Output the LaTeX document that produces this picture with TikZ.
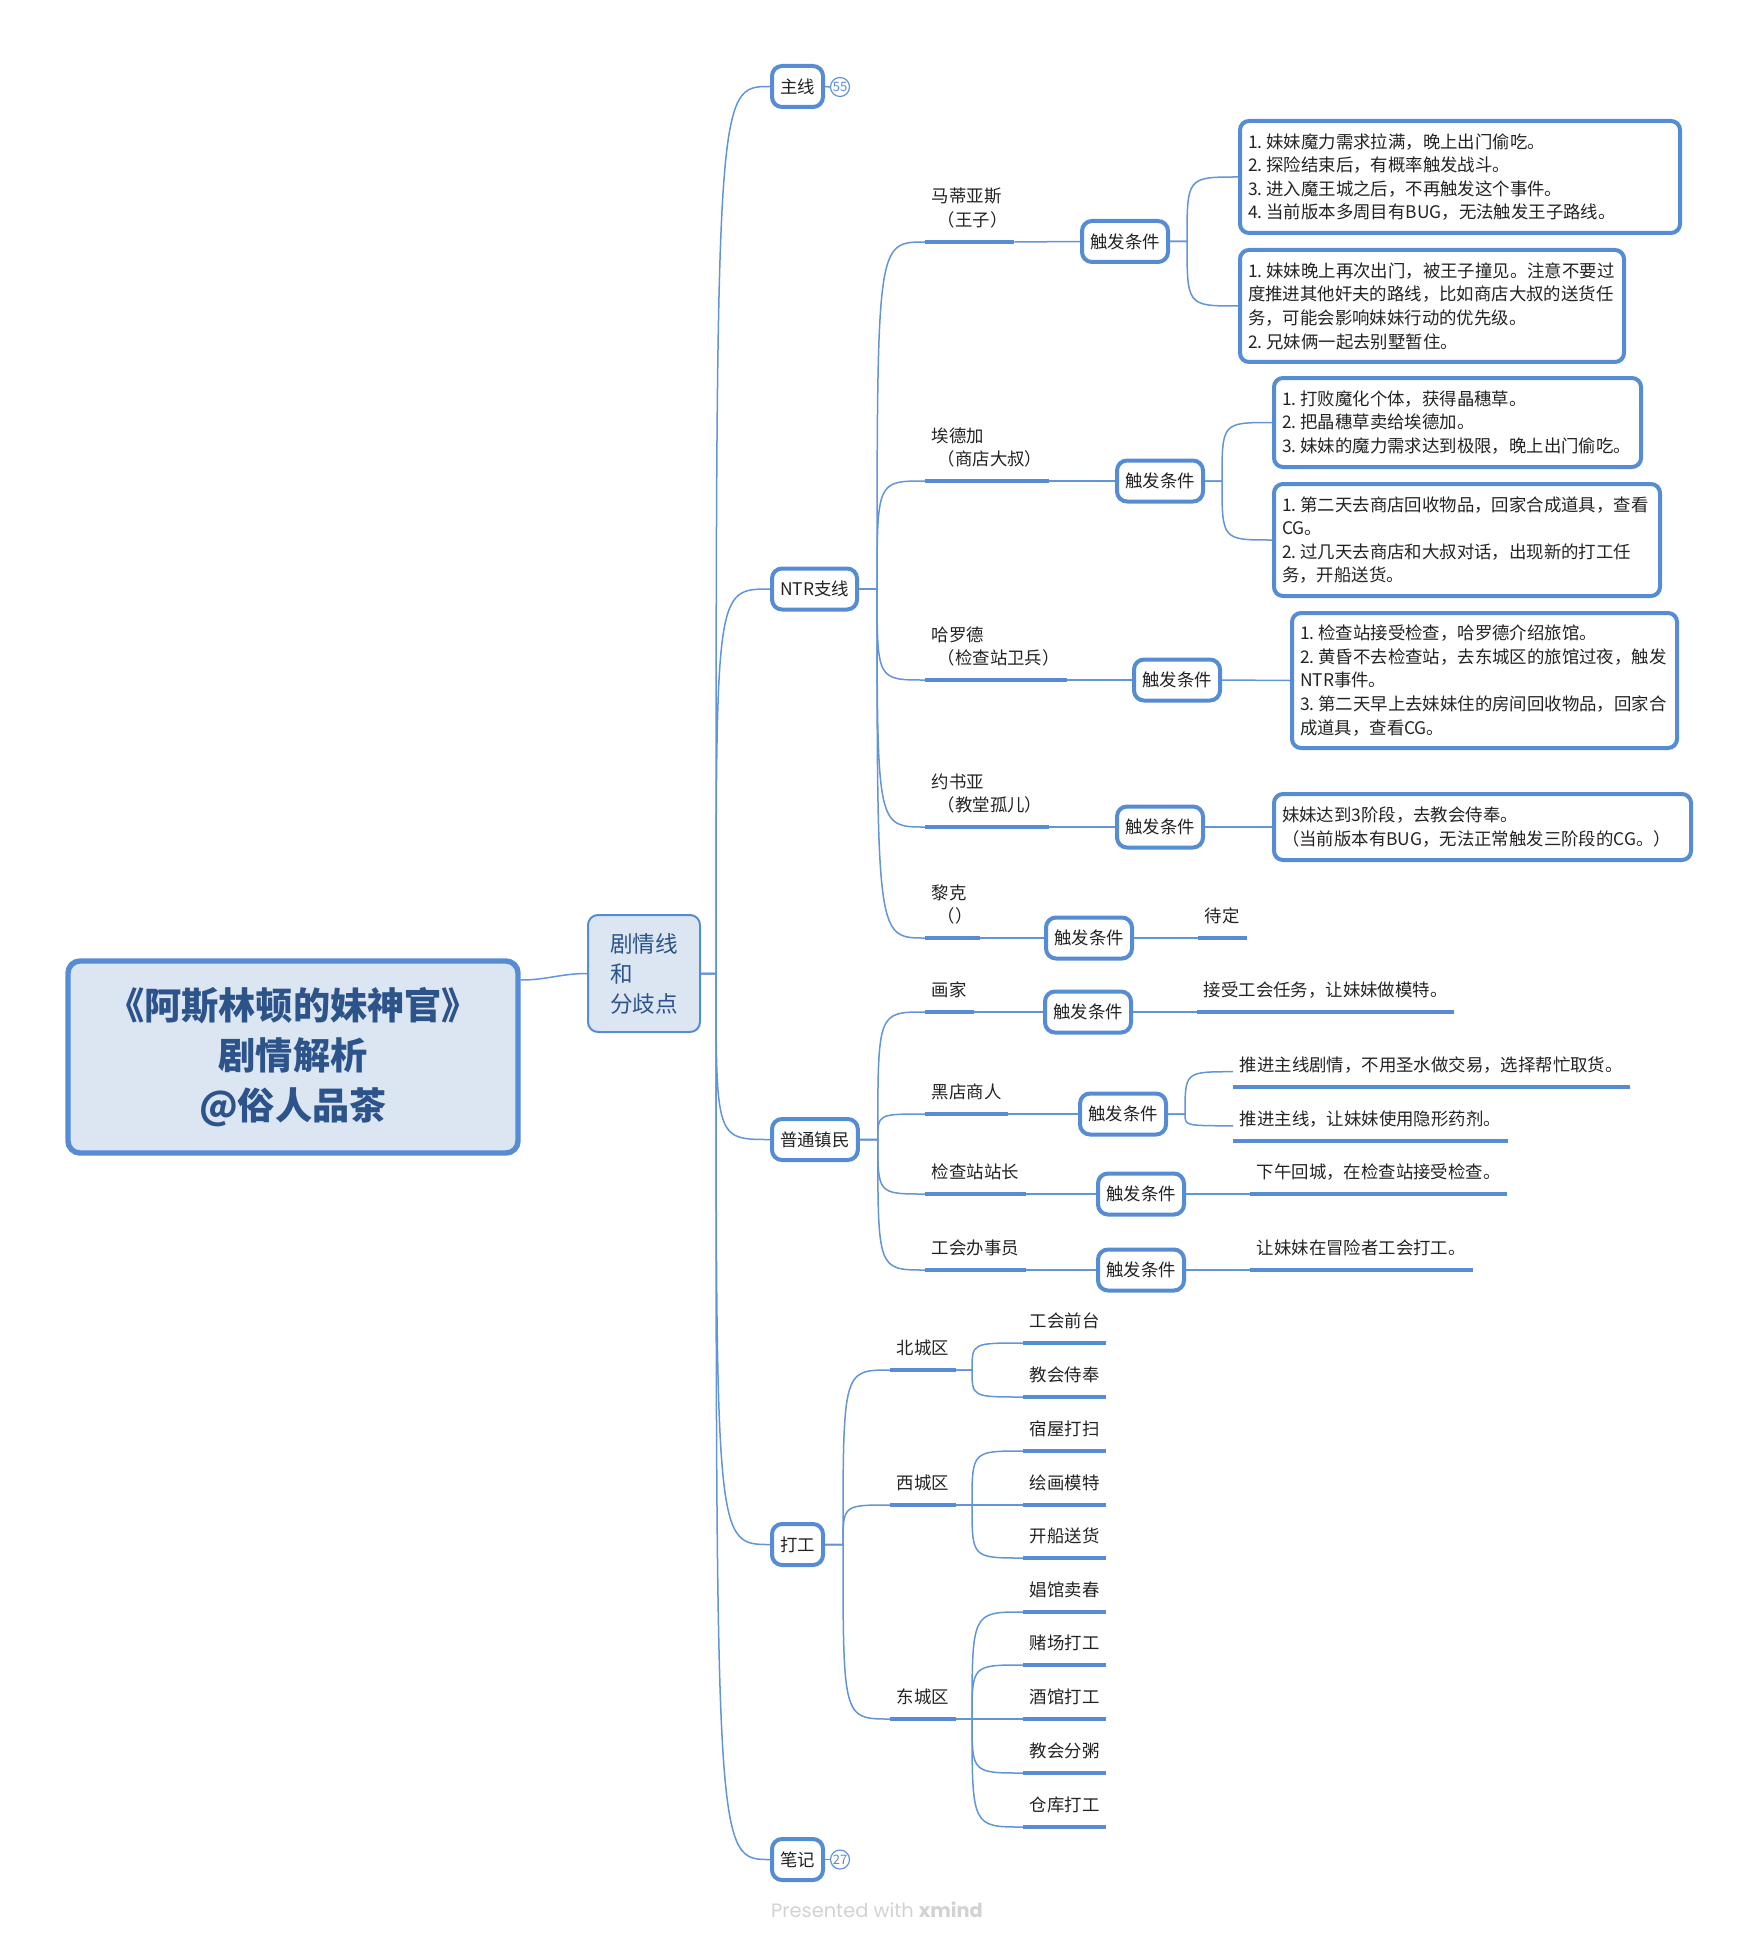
\documentclass[tikz,border=0pt]{standalone}
\usepackage{fontspec}
\setmainfont{Noto Sans CJK SC}
\newfontfamily\xmfont{Poppins}
\newcommand\itm[1]{#1.\kern2pt}

\definecolor{xmblue}{RGB}{86,140,212}
\definecolor{xmline}{RGB}{98,148,216}
\definecolor{xmfill}{RGB}{220,230,242}
\definecolor{xmtitle}{RGB}{45,84,138}
\definecolor{xmgray}{RGB}{210,210,210}
\definecolor{xmtext}{RGB}{35,35,35}

\tikzset{
  every node/.style={font=\fontsize{8.7}{11.8}\selectfont, text=xmtext},
  central/.style={draw=xmblue, line width=2.7pt, fill=xmfill, rounded corners=6pt,
    minimum width=225pt, minimum height=96pt, align=center, text=xmtitle,
    font=\fontsize{18.6}{25}\selectfont\bfseries},
  mainbr/.style={draw=xmblue, line width=1pt, fill=xmfill, rounded corners=5pt,
    minimum width=56pt, minimum height=58.5pt, align=left, text=xmtitle,
    font=\fontsize{11.3}{15}\selectfont},
  topic/.style={draw=xmblue, line width=2pt, fill=white, rounded corners=5pt,
    anchor=west, minimum height=20.5pt, inner xsep=4.05pt, inner ysep=0pt},
  trig/.style={draw=xmblue, line width=2pt, fill=white, rounded corners=5pt,
    anchor=west, minimum height=20.5pt, inner xsep=4.1pt, inner ysep=0pt},
  note/.style={draw=xmblue, line width=2pt, fill=white, rounded corners=4.5pt,
    anchor=west, align=left, inner xsep=4pt, inner ysep=0pt},
  sub/.style={anchor=south west, align=left, inner xsep=3.25pt, inner ysep=0pt,
    text depth=7.5pt},
  uline/.style={draw=xmblue, line width=2pt},
  link/.style={draw=xmline, line width=0.75pt},
  badge/.style={circle, draw=xmline, line width=0.6pt, inner sep=0pt,
    minimum size=9.5pt, text=xmblue, font=\fontsize{6.5}{6.5}\selectfont},
}

\begin{document}
\begin{tikzpicture}[x=0.5pt, y=-0.5pt]
\useasboundingbox (0,0) rectangle (1755,1947);

% root and first split
\node[central] (root) at (293,1057) {《阿斯林顿的妹神官》\\剧情解析\\@俗人品茶};
\node[mainbr] (story) at (644,973.5) {剧情线\\和\\分歧点};

% level 1
\node[topic] (mainline) at (770,86.5) {主线};
\node[topic] (ntr) at (770,589) {NTR支线};
\node[topic] (towns) at (770,1139.5) {普通镇民};
\node[topic] (work) at (770,1544.5) {打工};
\node[topic] (memo) at (770,1859.5) {笔记};
\node[badge] (c55) at (840,87) {55};
\node[badge] (c27) at (840,1859.5) {27};

% NTR branch
\node[sub] (matias) at (925,242) {马蒂亚斯\\\kern3pt（王子）};
\node[sub] (edgar) at (925,481) {埃德加\\\kern3pt（商店大叔）};
\node[sub] (harold) at (925,680) {哈罗德\\\kern3pt（检查站卫兵）};
\node[sub] (joshua) at (925,827) {约书亚\\\kern3pt（教堂孤儿）};
\node[sub] (rick) at (925,938) {黎克\\\kern3pt（）};

\node[trig] (t1) at (1080,241.5) {触发条件};
\node[trig] (t2) at (1115,481) {触发条件};
\node[trig] (t3) at (1132,680) {触发条件};
\node[trig] (t4) at (1115,827) {触发条件};
\node[trig] (t5) at (1044,938) {触发条件};

\node[note, text width=212pt, minimum height=56pt] (a1) at (1238,177)
  {\itm1妹妹魔力需求拉满，晚上出门偷吃。\\\itm2探险结束后，有概率触发战斗。\\\itm3进入魔王城之后，不再触发这个事件。\\\itm4当前版本多周目有BUG，无法触发王子路线。};
\node[note, text width=184pt, minimum height=56pt] (a2) at (1238,306)
  {\itm1妹妹晚上再次出门，被王子撞见。注意不要过\\度推进其他奸夫的路线，比如商店大叔的送货任\\务，可能会影响妹妹行动的优先级。\\\itm2兄妹俩一起去别墅暂住。};
\node[note, text width=175.5pt, minimum height=44.5pt] (b1) at (1272,422.5)
  {\itm1打败魔化个体，获得晶穗草。\\\itm2把晶穗草卖给埃德加。\\\itm3妹妹的魔力需求达到极限，晚上出门偷吃。};
\node[note, text width=185pt, minimum height=56pt] (b2) at (1272,540)
  {\itm1第二天去商店回收物品，回家合成道具，查看\\CG。\\\itm2过几天去商店和大叔对话，出现新的打工任\\务，开船送货。};
\node[note, text width=184.5pt, minimum height=67.5pt] (c1) at (1290,680.5)
  {\itm1检查站接受检查，哈罗德介绍旅馆。\\\itm2黄昏不去检查站，去东城区的旅馆过夜，触发\\NTR事件。\\\itm3第二天早上去妹妹住的房间回收物品，回家合\\成道具，查看CG。};
\node[note, text width=200.5pt, minimum height=33pt] (d1) at (1272,827)
  {妹妹达到3阶段，去教会侍奉。\\（当前版本有BUG，无法正常触发三阶段的CG。）};
\node[sub] (e1) at (1198,938) {待定};

% townsfolk branch
\node[sub] (painter) at (925,1012) {画家};
\node[sub] (dealer) at (925,1114) {黑店商人};
\node[sub] (chief) at (925,1194) {检查站站长};
\node[sub] (clerk) at (925,1270) {工会办事员};

\node[trig] (t6) at (1043,1012) {触发条件};
\node[trig] (t7) at (1078,1114) {触发条件};
\node[trig] (t8) at (1096,1194) {触发条件};
\node[trig] (t9) at (1096,1270) {触发条件};

\node[sub] (f1) at (1197,1012) {接受工会任务，让妹妹做模特。};
\node[sub] (g1) at (1233,1087) {推进主线剧情，不用圣水做交易，选择帮忙取货。};
\node[sub] (g2) at (1233,1141) {推进主线，让妹妹使用隐形药剂。};
\node[sub] (h1) at (1250,1194) {下午回城，在检查站接受检查。};
\node[sub] (k1) at (1250,1270) {让妹妹在冒险者工会打工。};

% part-time jobs
\node[sub] (north) at (890,1370) {北城区};
\node[sub] (west) at (890,1505) {西城区};
\node[sub] (east) at (890,1719) {东城区};

\node[sub] (j1) at (1023,1343) {工会前台};
\node[sub] (j2) at (1023,1397) {教会侍奉};
\node[sub] (j3) at (1023,1451) {宿屋打扫};
\node[sub] (j4) at (1023,1505) {绘画模特};
\node[sub] (j5) at (1023,1558) {开船送货};
\node[sub] (j6) at (1023,1612) {娼馆卖春};
\node[sub] (j7) at (1023,1665) {赌场打工};
\node[sub] (j8) at (1023,1719) {酒馆打工};
\node[sub] (j9) at (1023,1773) {教会分粥};
\node[sub] (j10) at (1023,1827) {仓库打工};

% underlines
\foreach \n in {matias,edgar,harold,joshua,rick,e1,painter,dealer,chief,clerk,
                f1,g1,g2,h1,k1,north,west,east,j1,j2,j3,j4,j5,j6,j7,j8,j9,j10}
  \draw[uline] (\n.south west) -- (\n.south east);

% connectors
\draw[link] (root.east |- 0,980) to[out=0, in=180] (story.west);
\foreach \n in {mainline,ntr,towns,work,memo}
  \draw[link] (story.east) -- ++(15,0) coordinate (k) .. controls (k |- \n.west) .. (\n.west);
\draw[link] (mainline.east) -- (c55.west);
\draw[link] (memo.east) -- (c27.west);

\foreach \n in {matias,edgar,harold,joshua,rick}
  \draw[link] (ntr.east) -- ++(18,0) coordinate (k) .. controls (k |- \n.south west) .. (\n.south west);
\foreach \n in {painter,dealer,chief,clerk}
  \draw[link] (towns.east) -- ++(18,0) coordinate (k) .. controls (k |- \n.south west) .. (\n.south west);
\foreach \n in {north,west,east}
  \draw[link] (work.east) -- ++(18,0) coordinate (k) .. controls (k |- \n.south west) .. (\n.south west);

\foreach \a/\b in {north/j1,north/j2,west/j3,west/j4,west/j5,
                   east/j6,east/j7,east/j8,east/j9,east/j10}
  \draw[link] (\a.south east) -- ++(16,0) coordinate (k) .. controls (k |- \b.south west) .. (\b.south west);

\foreach \a/\b in {matias/t1,edgar/t2,harold/t3,joshua/t4,rick/t5,
                   painter/t6,dealer/t7,chief/t8,clerk/t9}
  \draw[link] (\a.south east) -- (\b.west);

\foreach \a/\b in {t1/a1,t1/a2,t2/b1,t2/b2,t7/g1,t7/g2}
  \draw[link] (\a.east) -- ++(17,0) coordinate (k) .. controls (k |- \b.west) .. (\b.west);
\draw[link] (t3.east) -- (c1.west);
\draw[link] (t4.east) -- (d1.west);
\draw[link] (t5.east) -- (e1.south west);
\draw[link] (t6.east) -- (f1.south west);
\draw[link] (t8.east) -- (h1.south west);
\draw[link] (t9.east) -- (k1.south west);

% footer
\node[font=\xmfont\fontsize{9.7}{11}\selectfont, text=xmgray] (credit) at (877,1910)
  {Presented with \textbf{xmind}};
\end{tikzpicture}
\end{document}
